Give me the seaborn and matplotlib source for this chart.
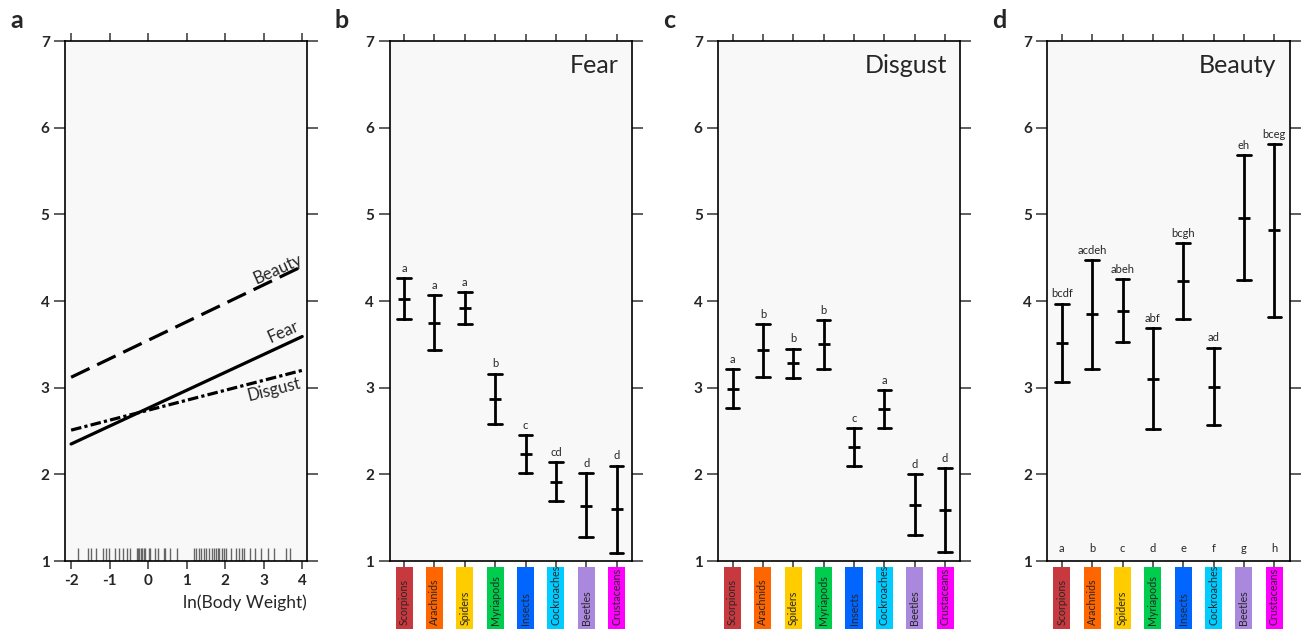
import matplotlib
matplotlib.use("Agg")
import matplotlib.pyplot as plt
from matplotlib.patches import Rectangle
from matplotlib.transforms import blended_transform_factory
import numpy as np
import pandas as pd
import seaborn as sns

# panel a: fitted lines against ln(body weight)
weight_range = [-2, 4]
fear_line = [2.35, 3.59]
disgust_line = [2.51, 3.20]
beauty_line = [3.12, 4.40]
log_weights = [
    -1.83, -1.57, -1.48, -1.35, -1.16, -1.09, -1.02, -0.85, -0.75, -0.64,
    -0.56, -0.46, -0.30, -0.26, -0.23, -0.19, -0.16, -0.12, -0.09, 0.02,
    0.05, 0.17, 0.26, 0.40, 0.45, 0.57, 0.74,
    1.20, 1.24, 1.31, 1.38, 1.44, 1.51, 1.58, 1.65, 1.70, 1.77,
    1.81, 1.84, 1.93, 1.96, 2.03, 2.16, 2.29, 2.36, 2.43, 2.50,
    2.64, 2.78, 2.94, 3.11, 3.26, 3.59, 3.68,
]
weight_ticks = [-2, -1, 0, 1, 2, 3, 4]

# panels b-d: means with interval per animal group
categories = ["Scorpions", "Arachnids", "Spiders", "Myriapods",
              "Insects", "Cockroaches", "Beetles", "Crustaceans"]
category_colors = ["#c8393f", "#ff6600", "#ffcc00", "#00cc4e",
                   "#0066ff", "#00ccff", "#aa88dd", "#ff00ff"]

fear_mean = [4.02, 3.75, 3.92, 2.87, 2.23, 1.91, 1.64, 1.60]
fear_lo = [3.79, 3.43, 3.73, 2.58, 2.01, 1.69, 1.28, 1.09]
fear_hi = [4.26, 4.07, 4.10, 3.16, 2.45, 2.14, 2.01, 2.10]
fear_letters = ["a", "a", "a", "b", "c", "cd", "d", "d"]

disgust_mean = [2.99, 3.43, 3.28, 3.50, 2.31, 2.75, 1.65, 1.59]
disgust_lo = [2.77, 3.12, 3.11, 3.21, 2.10, 2.53, 1.30, 1.10]
disgust_hi = [3.21, 3.73, 3.45, 3.78, 2.53, 2.97, 2.00, 2.07]
disgust_letters = ["a", "b", "b", "b", "c", "a", "d", "d"]

beauty_mean = [3.51, 3.85, 3.89, 3.10, 4.23, 3.01, 4.96, 4.82]
beauty_lo = [3.06, 3.22, 3.53, 2.52, 3.79, 2.57, 4.24, 3.81]
beauty_hi = [3.97, 4.47, 4.25, 3.69, 4.67, 3.46, 5.68, 5.81]
beauty_letters = ["bcdf", "acdeh", "abeh", "abf", "bcgh", "ad", "eh", "bceg"]
group_ids = ["a", "b", "c", "d", "e", "f", "g", "h"]

sns.set_style("ticks")
plt.rcParams["font.family"] = ["Lato", "DejaVu Sans"]
plt.rcParams["axes.linewidth"] = 1.2

BG = "#f8f8f8"
TICK_COLOR = "#444444"

fig = plt.figure(figsize=(13.04, 6.29), dpi=100)
bottom, height = 0.1081, 0.8267
axes_pos = [0.0498, 0.2987, 0.5506, 0.8031]
width = 0.1858


def style_axes(ax):
    ax.set_facecolor(BG)
    for s in ax.spines.values():
        s.set_visible(True)
        s.set_color("black")
    ax.set_ylim(1, 7)
    ax.set_yticks(range(1, 8), labels=[str(v) for v in range(1, 8)],
                  fontweight="bold", fontsize=11)
    ax.tick_params(axis="y", left=True, right=True, direction="out",
                   length=8, width=1.2, color=TICK_COLOR, pad=3)
    ax.tick_params(axis="x", top=True, bottom=True, direction="out",
                   length=6, width=1.2, color=TICK_COLOR, pad=3)
    ax.set_xlabel("")
    ax.set_ylabel("")


# ---- panel a ----
ax = fig.add_axes([axes_pos[0], bottom, width, height])
lines_df = pd.DataFrame({
    "x": weight_range * 3,
    "y": fear_line + disgust_line + beauty_line,
    "series": ["Fear"] * 2 + ["Disgust"] * 2 + ["Beauty"] * 2,
})
sns.lineplot(data=lines_df, x="x", y="y", style="series", color="black",
             dashes={"Fear": "", "Disgust": (3.3, 1.0, 1.0, 1.0),
                     "Beauty": (6.4, 2.65)},
             linewidth=2.3, legend=False, ax=ax)
sns.rugplot(x=log_weights, height=0.025, color="#666666", linewidth=1, ax=ax)
ax.set_xlim(-2.16, 4.13)
style_axes(ax)
ax.set_xticks(weight_ticks, labels=[str(v) for v in weight_ticks],
              fontweight="bold", fontsize=11)
ax.text(3.36, 4.37, "Beauty", rotation=24, ha="center", va="center", fontsize=12)
ax.text(3.52, 3.64, "Fear", rotation=24, ha="center", va="center", fontsize=12)
ax.text(3.26, 2.98, "Disgust", rotation=14, ha="center", va="center", fontsize=12)
ax.text(1.0, -0.081, "ln(Body Weight)", transform=ax.transAxes,
        ha="right", va="center", fontsize=12.5)
fig.text(0.008, 0.985, "a", fontsize=18, fontweight="bold", va="top", ha="left")

# ---- panels b-d ----
panels = [
    ("b", "Fear", fear_mean, fear_lo, fear_hi, fear_letters),
    ("c", "Disgust", disgust_mean, disgust_lo, disgust_hi, disgust_letters),
    ("d", "Beauty", beauty_mean, beauty_lo, beauty_hi, beauty_letters),
]
for k, (tag, title, mean, lo, hi, letters) in enumerate(panels, start=1):
    ax = fig.add_axes([axes_pos[k], bottom, width, height])
    df = pd.DataFrame({
        "category": categories * 3,
        "value": list(lo) + list(mean) + list(hi),
    })
    sns.pointplot(data=df, x="category", y="value", order=categories,
                  estimator="median", errorbar=lambda v: (v.min(), v.max()),
                  color="black", capsize=0.45, marker="_", markersize=9,
                  markeredgewidth=2, linestyle="none",
                  err_kws={"linewidth": 2}, ax=ax)
    ax.set_xlim(-0.48, 7.5)
    ax.set_xticks(range(len(categories)))
    ax.set_xticklabels([])
    style_axes(ax)
    ax.tick_params(axis="x", length=5)
    for i, txt in enumerate(letters):
        ax.text(i, hi[i] + 0.05, txt, ha="center", va="bottom", fontsize=8)
    if tag == "d":
        for i, g in enumerate(group_ids):
            ax.text(i, 1.15, g, ha="center", va="center", fontsize=8)
    ax.text(0.945, 0.975, title, transform=ax.transAxes, ha="right",
            va="top", fontsize=18)
    # coloured category boxes under the axis
    tr = blended_transform_factory(ax.transData, ax.transAxes)
    for i, (cat, col) in enumerate(zip(categories, category_colors)):
        ax.add_patch(Rectangle((i - 0.28, -0.135), 0.56, 0.1235,
                               transform=tr, facecolor=col, edgecolor="none",
                               clip_on=False))
        ax.text(i, -0.124, cat, transform=tr, rotation=90, ha="center",
                va="bottom", fontsize=7.7)
    fig.text(axes_pos[k] - 0.042, 0.985, tag, fontsize=18,
             fontweight="bold", va="top", ha="left")

fig.savefig("out.png", dpi=100, facecolor="white")
